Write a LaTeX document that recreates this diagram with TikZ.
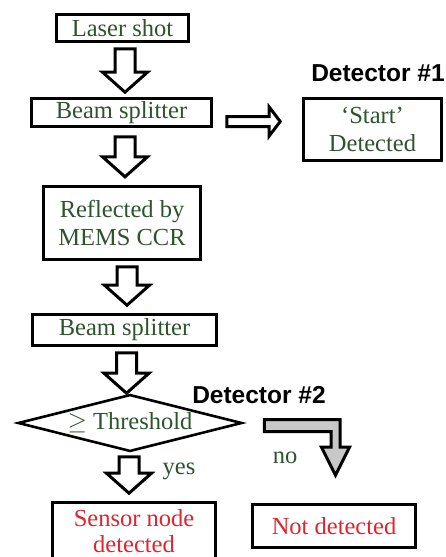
\documentclass[tikz,border=0pt]{standalone}
\usepackage{fontspec}
\setmainfont{Liberation Serif}
\newfontfamily\detfont{Liberation Sans}
\usetikzlibrary{shapes.geometric,calc}
\definecolor{txtgreen}{RGB}{45,85,45}
\definecolor{txtred}{RGB}{225,35,45}
\definecolor{arrowgray}{RGB}{200,200,200}
\newcommand\blockdown[3][]{%
  \draw[blockarrow,#1] let \p1=#2, \p2=#3 in
    (\x1-10pt,\y1) -- (\x1+10pt,\y1) -- (\x1+10pt,\y2+20pt) -- (\x1+22.5pt,\y2+20pt)
    -- (\x1,\y2) -- (\x1-22.5pt,\y2+20pt) -- (\x1-10pt,\y2+20pt) -- cycle;}
\newcommand\blockright[3][]{%
  \draw[blockarrow,#1] let \p1=#2, \p2=#3 in
    (\x1,\y1+5pt) -- (\x2-11pt,\y1+5pt) -- (\x2-11pt,\y1+14.5pt) -- (\x2,\y1)
    -- (\x2-11pt,\y1-14.5pt) -- (\x2-11pt,\y1-5pt) -- (\x1,\y1-5pt) -- cycle;}
\begin{document}
\begin{tikzpicture}[x=1pt,y=-1pt,
  box/.style={draw=black, line width=2.6pt, fill=white, inner sep=0pt,
    text=txtgreen, font=\fontsize{24.5}{28}\selectfont, align=center},
  redbox/.style={box, text=txtred},
  decision/.style={box, diamond, shape aspect=3.9},
  detlabel/.style={font=\detfont\bfseries\fontsize{24.5}{28}\selectfont, inner sep=0pt},
  branch/.style={text=txtgreen, font=\fontsize{24.5}{28}\selectfont, inner sep=0pt},
  blockarrow/.style={draw=black, line width=3pt, fill=white, line join=miter},
  grayarrow/.style={blockarrow, fill=arrowgray}]
\useasboundingbox (0,0) rectangle (445,557);
\clip (0,0) rectangle (445,557);

\node[box, minimum width=132pt, minimum height=27pt] (ls) at (122.5,28) {Laser shot};
\node[box, minimum width=180pt, minimum height=28pt] (bs1) at (121.5,112.5) {Beam splitter};
\node[box, minimum width=138pt, minimum height=62pt] (start) at (372.5,129.5) {‘Start’\\Detected};
\node[detlabel] (det1) at (378,73) {Detector \#1};
\node[box, minimum width=157pt, minimum height=73pt] (refl) at (122,223) {Reflected by\\MEMS CCR};
\node[box, minimum width=184pt, minimum height=31pt] (bs2) at (124.5,330) {Beam splitter};
\node[decision, minimum width=224pt, minimum height=57pt] (dia) at (130,423) {$\geq$ Threshold};
\node[detlabel] (det2) at (259,395) {Detector \#2};
\node[redbox, minimum width=163pt, minimum height=57pt, font=\fontsize{24.5}{26}\selectfont] (sensor) at (134,531) {Sensor node\\detected};
\node[redbox, minimum width=163pt, minimum height=43pt] (nd) at (334,526) {Not detected};
\node[branch] (yes) at (179,471) {yes};
\node[branch] (no) at (285,458) {no};

\blockdown{($(ls.south)+(2.5,6)$)}{($(bs1.north)+(0,-5)$)}
\blockdown{($(bs1.south)+(3.5,9)$)}{($(bs1.south)+(0,49)$)}
\blockdown{($(refl.south)+(5,6)$)}{($(bs2.north)+(0,-8)$)}
\blockdown{($(bs2.south)+(2,6)$)}{($(dia.north)+(0,0)$)}
\blockdown{($(dia.south)+(-1,4)$)}{($(sensor.north)+(0,-8)$)}
\blockright{($(bs1.east)+(14,9)$)}{($(start.west)+(-22,0)$)}

\draw[grayarrow] let \p1=($(dia.east)+(21,-3.5)$), \p2=($(nd.north)+(1.5,-28)$) in
  (\x1,\y1) -- (\x2+4.5pt,\y1) -- (\x2+4.5pt,\y2+28pt) -- (\x2+14pt,\y2+28pt)
  -- (\x2,\y2) -- (\x2-14pt,\y2+28pt) -- (\x2-4.5pt,\y2+28pt) -- (\x2-4.5pt,\y1-12pt)
  -- (\x1,\y1-12pt) -- cycle;
\end{tikzpicture}
\end{document}
